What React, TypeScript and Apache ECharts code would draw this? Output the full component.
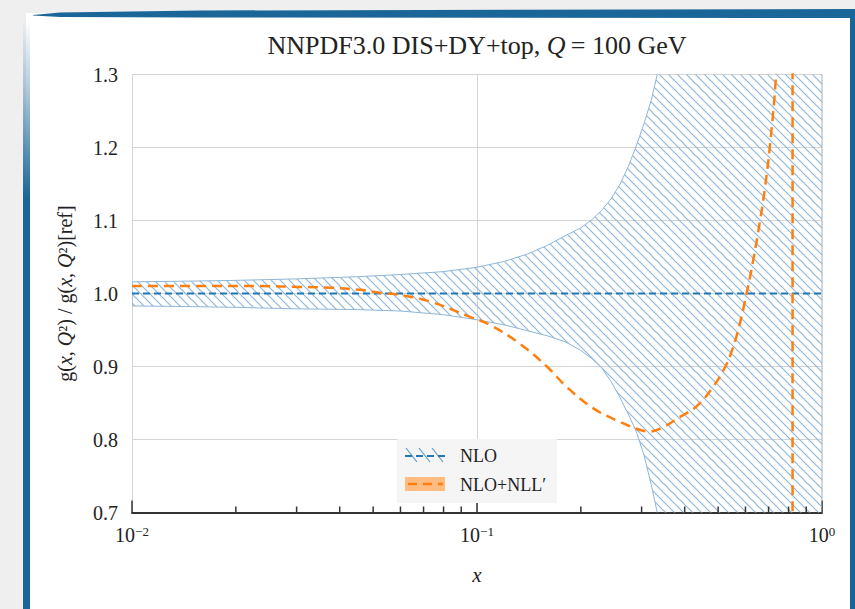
import { useEffect, useRef } from "react";
import * as echarts from "echarts";

const FONT = "'Liberation Serif', 'Times New Roman', 'DejaVu Serif', serif";

// ---- data ----
const xMin = 0.01;
const xMax = 1;
const yMin = 0.7;
const yMax = 1.3;
const yInterval = 0.1;
const xExponentLabels = ["−2", "−1", "0"];
const minorTickValues = [0.02, 0.03, 0.04, 0.05, 0.06, 0.07, 0.08, 0.09, 0.2, 0.3, 0.4, 0.5, 0.6, 0.7, 0.8, 0.9];

// NLO uncertainty band
const bandX = [0.01, 0.015, 0.02, 0.03, 0.045, 0.06, 0.08, 0.1, 0.12, 0.14, 0.16, 0.18, 0.2, 0.215, 0.23, 0.245, 0.26, 0.275, 0.29, 0.305, 0.32, 0.333, 0.35, 0.37, 0.4, 1.0];
const bandUpper = [1.016, 1.017, 1.018, 1.02, 1.023, 1.026, 1.03, 1.036, 1.044, 1.054, 1.066, 1.079, 1.09, 1.101, 1.114, 1.13, 1.15, 1.175, 1.203, 1.233, 1.265, 1.3, 1.36, 1.45, 2.5, 2.5];
const bandLower = [0.983, 0.982, 0.981, 0.979, 0.978, 0.976, 0.971, 0.964, 0.957, 0.949, 0.942, 0.934, 0.922, 0.911, 0.898, 0.879, 0.857, 0.834, 0.81, 0.778, 0.738, 0.7, 0.64, 0.55, 0.1, 0.1];

// NLO central
const nloX = [0.01, 1.0];
const nloY = [1.0, 1.0];

// NLO+NLL'
const nllX = [0.01, 0.0157, 0.0235, 0.0307, 0.0376, 0.0458, 0.0523, 0.0599, 0.0731, 0.0955, 0.109, 0.1333, 0.1594, 0.182, 0.2168, 0.26, 0.3027, 0.3175, 0.3467, 0.3876, 0.4345, 0.4833, 0.5236, 0.5484, 0.5709, 0.5984, 0.631, 0.661, 0.684, 0.707, 0.736, 0.76, 0.79, 0.81, 0.8215, 0.8216];
const nllY = [1.0104, 1.0104, 1.0102, 1.009, 1.008, 1.005, 1.001, 0.998, 0.989, 0.968, 0.957, 0.931, 0.9, 0.872, 0.843, 0.824, 0.812, 0.811, 0.817, 0.831, 0.846, 0.872, 0.899, 0.922, 0.949, 0.99, 1.044, 1.099, 1.146, 1.204, 1.3, 1.45, 1.8, 2.6, 40, -40];

const BLUE = "#1f77b4";
const ORANGE = "#ff7f0e";
const HATCH = "#8fb6d8";
const FRAME = "#1b6698";

const hatchSvg = `<svg xmlns='http://www.w3.org/2000/svg' width='9' height='9'><path d='M-2 -2L11 11M-2 7L2 11M7 -2L11 2' stroke='${HATCH}' stroke-width='1.15' fill='none'/></svg>`;
const hatchUrl = "data:image/svg+xml;charset=utf-8," + encodeURIComponent(hatchSvg);

function buildOption(): any {
  const bandData = bandX.map((x, i) => [x, bandLower[i], bandUpper[i]]);
  const nloData = nloX.map((x, i) => [x, nloY[i]]);
  const nllData = nllX.map((x, i) => [x, nllY[i]]);
  const minorData = minorTickValues.map((v) => [v, yMin]);

  return {
    animation: false,
    backgroundColor: "#efefef",
    textStyle: { fontFamily: FONT },
    title: {
      text: "{a|NNPDF3.0 DIS+DY+top, }{q|Q}{a|\u2009= 100 GeV}",
      left: 477,
      textAlign: "center",
      top: 32,
      padding: 0,
      textStyle: {
        fontWeight: "normal",
        rich: {
          a: { fontFamily: FONT, fontSize: 26, color: "#222", fontWeight: "normal" },
          q: { fontFamily: FONT, fontSize: 26, color: "#222", fontStyle: "italic", fontWeight: "normal" },
        },
      },
    },
    grid: { left: 132, right: 33, top: 74.5, bottom: 96.5, containLabel: false },
    xAxis: {
      type: "log",
      logBase: 10,
      min: xMin,
      max: xMax,
      splitNumber: 2,
      name: "x",
      nameLocation: "middle",
      nameGap: 52,
      nameTextStyle: { fontFamily: FONT, fontSize: 21, fontStyle: "italic", color: "#222" },
      axisLine: { show: true, lineStyle: { color: "#333", width: 2 } },
      axisTick: { show: true, inside: true, length: 12, lineStyle: { color: "#333", width: 1.5 } },
      splitLine: { show: true, lineStyle: { color: "#d4d4d4", width: 1 } },
      axisLabel: {
        margin: 12,
        showMinLabel: true,
        showMaxLabel: true,
        formatter: (v: number) => {
          const e = Math.round(Math.log10(v));
          const idx = e + 2;
          return `{b|10}{s|${xExponentLabels[idx] ?? String(e)}}`;
        },
        rich: {
          b: { fontFamily: FONT, fontSize: 20, color: "#222" },
          s: { fontFamily: FONT, fontSize: 13, color: "#222", verticalAlign: "top", lineHeight: 20 },
        },
      },
    },
    yAxis: {
      type: "value",
      min: yMin,
      max: yMax,
      interval: yInterval,
      name: "{n|g(}{i|x}{n|, }{i|Q}{n|²) / g(}{i|x}{n|, }{i|Q}{n|²)[ref]}",
      nameLocation: "middle",
      nameRotate: 90,
      nameGap: 57,
      nameTextStyle: {
        rich: {
          n: { fontFamily: FONT, fontSize: 20, color: "#222" },
          i: { fontFamily: FONT, fontSize: 20, color: "#222", fontStyle: "italic" },
        },
      },
      axisLine: { show: false },
      axisTick: { show: false },
      splitLine: { show: true, lineStyle: { color: "#d4d4d4", width: 1 } },
      axisLabel: {
        margin: 14,
        fontFamily: FONT,
        fontSize: 20,
        color: "#222",
        formatter: (v: number) => v.toFixed(1),
      },
    },
    series: [
      {
        name: "NLO",
        type: "custom",
        data: bandData,
        silent: true,
        clip: true,
        z: 2,
        renderItem: (params: any, api: any) => {
          if (params.dataIndex !== 0) return null;
          const upper = bandData.map((d) => api.coord([d[0], d[2]]));
          const lower = bandData.map((d) => api.coord([d[0], d[1]])).reverse();
          const cs = params.coordSys;
          return {
            type: "polygon",
            shape: { points: upper.concat(lower) },
            style: {
              fill: { image: hatchUrl, repeat: "repeat", imageWidth: 9, imageHeight: 9 },
              stroke: HATCH,
              lineWidth: 1,
            },
            clipPath: { type: "rect", shape: { x: cs.x, y: cs.y, width: cs.width, height: cs.height } },
          };
        },
      },
      {
        name: "NLO central",
        type: "line",
        data: nloData,
        symbol: "none",
        lineStyle: { color: BLUE, width: 2, type: [7, 4] },
        silent: true,
        z: 3,
      },
      {
        name: "NLO+NLL′",
        type: "line",
        data: nllData,
        symbol: "none",
        smooth: 0.4,
        lineStyle: { color: ORANGE, width: 2.5, type: [10, 6] },
        silent: true,
        z: 4,
      },
      {
        name: "minor ticks",
        type: "custom",
        data: minorData,
        silent: true,
        z: 5,
        renderItem: (_params: any, api: any) => {
          const p = api.coord([api.value(0), api.value(1)]);
          return {
            type: "line",
            shape: { x1: p[0], y1: p[1], x2: p[0], y2: p[1] - 6 },
            style: { stroke: "#333", lineWidth: 1.5 },
          };
        },
      },
    ],
    graphic: {
      elements: [
        { type: "rect", z: -10, silent: true, shape: { x: 26, y: 13, width: 824, height: 596 }, style: { fill: "#ffffff" } },
        {
          type: "polygon",
          z: -9,
          silent: true,
          shape: { points: [[33, 15], [60, 12.5], [200, 10.5], [855, 9], [855, 18], [200, 17.5], [60, 17], [33, 15.5]] },
          style: { fill: FRAME },
        },
        { type: "rect", z: -9, silent: true, shape: { x: 850, y: 9, width: 5, height: 600 }, style: { fill: FRAME } },
        {
          type: "rect",
          z: -9,
          silent: true,
          shape: { x: 23, y: 20, width: 7, height: 589 },
          style: {
            fill: new echarts.graphic.LinearGradient(0, 0, 0, 1, [
              { offset: 0, color: "rgba(27,102,152,0)" },
              { offset: 0.12, color: "rgba(27,102,152,0.35)" },
              { offset: 0.3, color: "rgba(27,102,152,1)" },
              { offset: 1, color: "rgba(27,102,152,1)" },
            ]),
          },
        },
        // legend
        { type: "rect", z: 100, silent: true, shape: { x: 397, y: 439, width: 160, height: 64 }, style: { fill: "#f5f5f5" } },
        { type: "line", z: 101, silent: true, shape: { x1: 406, y1: 448, x2: 417, y2: 462 }, style: { stroke: "#5b9bd0", lineWidth: 1.2 } },
        { type: "line", z: 101, silent: true, shape: { x1: 419, y1: 448, x2: 430, y2: 462 }, style: { stroke: "#5b9bd0", lineWidth: 1.2 } },
        { type: "line", z: 101, silent: true, shape: { x1: 432, y1: 448, x2: 443, y2: 462 }, style: { stroke: "#5b9bd0", lineWidth: 1.2 } },
        { type: "line", z: 102, silent: true, shape: { x1: 405, y1: 456, x2: 445, y2: 456 }, style: { stroke: BLUE, lineWidth: 2, lineDash: [7, 4] } },
        { type: "rect", z: 101, silent: true, shape: { x: 405, y: 477, width: 40, height: 14 }, style: { fill: "#ffbb80" } },
        { type: "line", z: 102, silent: true, shape: { x1: 408, y1: 484, x2: 443, y2: 484 }, style: { stroke: ORANGE, lineWidth: 2.5, lineDash: [9, 6] } },
        { type: "text", z: 102, silent: true, x: 460, y: 456, style: { text: "NLO", fontFamily: FONT, fontSize: 18, fill: "#222", verticalAlign: "middle" } },
        { type: "text", z: 102, silent: true, x: 460, y: 485, style: { text: "NLO+NLL′", fontFamily: FONT, fontSize: 18, fill: "#222", verticalAlign: "middle" } },
      ],
    },
  };
}

export default function App() {
  const ref = useRef<HTMLDivElement>(null);
  useEffect(() => {
    if (!ref.current) return;
    const chart = echarts.init(ref.current, null, { renderer: "svg" });
    chart.setOption(buildOption());
    return () => chart.dispose();
  }, []);
  return <div ref={ref} style={{ position: "absolute", left: 0, top: 0, width: 855, height: 609 }} />;
}
